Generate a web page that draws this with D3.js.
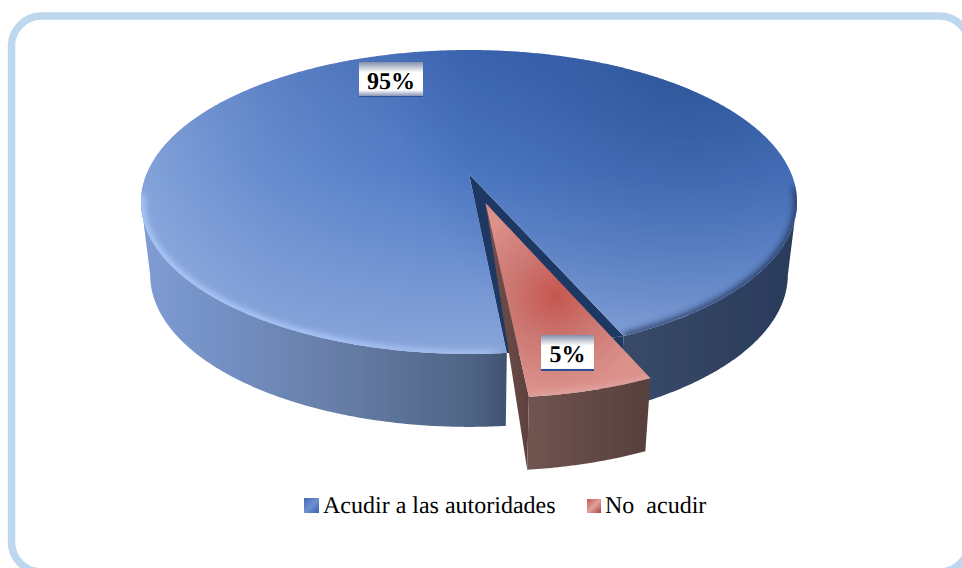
<!DOCTYPE html>
<html><head><meta charset="utf-8">
<script src="https://cdnjs.cloudflare.com/ajax/libs/d3/7.8.5/d3.min.js"></script>
<style>html,body{margin:0;padding:0;background:#fff;overflow:hidden}svg{display:block}text{font-family:"Liberation Serif",serif;white-space:pre;text-rendering:geometricPrecision}</style>
</head><body><svg id="c" width="962" height="568"></svg>
<script>
const categories = ["Acudir a las autoridades", "No  acudir"];
const values = [95, 5];
const valueLabels = ["95%", "5%"];

const svg = d3.select("#c"), defs = svg.append("defs");
const deg = Math.PI / 180;
const pieGen = d3.pie().sort(null).startAngle(174.5 * deg).endAngle(534.5 * deg);
const arcs = pieGen(values);

// perspective projection of the tilted disc
const cx = 469, cy = 174, b = 146.8, c = 322.4, k = -0.184, depth = 73, shrink = 0.972, explode = 0.197;
function project(X, Y) { const w = 1 + k * Y; return [cx + c * X / w, cy + b * Y / w]; }
function rim(a, off) { return project(Math.sin(a) + off[0], -Math.cos(a) + off[1]); }
function lower(p) { return [cx + (p[0] - cx) * shrink, p[1] + depth]; }
function sample(a0, a1) { const n = Math.max(2, Math.ceil(Math.abs(a1 - a0) / (0.5 * deg))); return d3.range(n + 1).map(i => a0 + (a1 - a0) * i / n); }
const line = d3.line().curve(d3.curveLinear);
const closed = pts => line(pts) + "Z";

function linGrad(id, x1, y1, x2, y2, stops) {
  const g = defs.append("linearGradient").attr("id", id).attr("gradientUnits", "userSpaceOnUse")
    .attr("x1", x1).attr("y1", y1).attr("x2", x2).attr("y2", y2);
  stops.forEach(s => g.append("stop").attr("offset", s[0]).attr("stop-color", s[1]).attr("stop-opacity", s[2] === undefined ? 1 : s[2]));
}
function radGrad(id, x, y, r, stops) {
  const g = defs.append("radialGradient").attr("id", id).attr("gradientUnits", "userSpaceOnUse").attr("cx", x).attr("cy", y).attr("r", r);
  stops.forEach(s => g.append("stop").attr("offset", s[0]).attr("stop-color", s[1]).attr("stop-opacity", s[2] === undefined ? 1 : s[2]));
}
function blur(id, sd) { defs.append("filter").attr("id", id).attr("x", "-20%").attr("y", "-20%").attr("width", "140%").attr("height", "140%").append("feGaussianBlur").attr("stdDeviation", sd); }
blur("b1", 3); blur("b0", 0.45);

linGrad("wallBlue", 143, 0, 797, 0, [[0, "#7f9cd4"], [0.12, "#7390c4"], [0.3, "#667da6"], [0.5, "#4f6586"], [0.56, "#3f5170"], [0.75, "#384968"], [1, "#2a3b5c"]]);
linGrad("topV", 0, 50, 0, 354, [[0, "#3d66b2"], [0.4, "#4f7ac6"], [1, "#8aa6da"]]);
linGrad("topL", 141, 0, 470, 0, [[0, "#a3bbe6", 0.62], [0.4, "#8fabde", 0.36], [1, "#7f9fd8", 0]]);
radGrad("topD", 690, 70, 300, [[0, "#234a88", 0.62], [0.6, "#2a5296", 0.25], [1, "#2a5296", 0]]);
linGrad("rimG", 141, 0, 797, 0, [[0, "#b5d2ff"], [0.3, "#b0ccff"], [0.53, "#a9c4f2"], [0.62, "#2d4470"], [1, "#22365e"]]);
radGrad("redTop", 556, 296, 95, [[0, "#c6564f"], [0.45, "#cb7570"], [1, "#dc918b"]]);
linGrad("redFront", 529, 0, 644, 0, [[0, "#6f5450"], [1, "#58403c"]]);
linGrad("redSide", 486, 0, 528, 0, [[0, "#74504c"], [1, "#5e423e"]]);
linGrad("labelA", 0, 0, 0, 1, [[0, "#8390ab"], [0.3, "#ffffff"], [0.8, "#ffffff"], [0.96, "#8e9ab8"], [0.97, "#2d4f94"], [1, "#2d4f94"]]);
linGrad("labelB", 0, 0, 0, 1, [[0, "#8390ab"], [0.3, "#ffffff"], [0.93, "#ffffff"], [0.94, "#2d4f94"], [1, "#2d4f94"]]);
defs.selectAll("linearGradient").filter(function () { return this.id.startsWith("label"); }).attr("gradientUnits", "objectBoundingBox");
linGrad("lgBlue", 304, 498, 319, 513, [[0, "#3f68b4"], [0.5, "#6f90d2"], [1, "#3c62ab"]]);
linGrad("lgRed", 587, 499, 601, 513, [[0, "#c45a55"], [0.5, "#e2a09b"], [1, "#a94440"]]);

// frame
svg.append("rect").attr("x", 11.5).attr("y", 16).attr("width", 958).attr("height", 556).attr("rx", 30)
  .attr("fill", "#fff").attr("stroke", "#bdd7ee").attr("stroke-width", 7.5);

const pieG = svg.append("g").attr("filter", "url(#b0)");
const origin = [0, 0];

// main slice
const blueArc = arcs[0];
const leftEnd = blueArc.startAngle, rightEnd = blueArc.endAngle;
const rimLeft = rim(leftEnd, origin), rimRight = rim(rightEnd, origin);
const apex = project(0, 0);

// front walls of the main slice (run up to the tangent points of the disc)
[[leftEnd, 259.4 * deg], [rightEnd, 460.6 * deg]].forEach(r => {
  const top = sample(r[0], r[1]).map(a => rim(a, origin));
  pieG.append("path").attr("d", closed(top.concat(top.map(lower).reverse()))).attr("fill", "url(#wallBlue)");
});
// exposed cut of the main slice
pieG.append("path").attr("d", closed([apex, rimLeft, rimRight, lower(rimRight), [cx + 20, cy + 90]])).attr("fill", "#1f3864");
pieG.append("path").attr("d", closed([apex, rimLeft, rimRight])).attr("fill", "#1f3864");

// top of main slice
const blueTop = closed([apex].concat(sample(leftEnd, rightEnd).map(a => rim(a, origin))));
defs.append("clipPath").attr("id", "blueClip").append("path").attr("d", blueTop);
["topV", "topL", "topD"].forEach(id => pieG.append("path").attr("d", blueTop).attr("fill", `url(#${id})`));
const rimG = pieG.append("g").attr("clip-path", "url(#blueClip)");
rimG.append("path").attr("d", line(sample(leftEnd, 262 * deg).map(a => rim(a, origin))))
  .attr("fill", "none").attr("stroke", "url(#rimG)").attr("stroke-width", 6).attr("filter", "url(#b1)");
rimG.append("path").attr("d", line(sample(rightEnd, 455 * deg).map(a => rim(a, origin))))
  .attr("fill", "none").attr("stroke", "url(#rimG)").attr("stroke-width", 6).attr("filter", "url(#b1)");

// exploded slice
const redArc = arcs[1];
const mid = (redArc.startAngle + redArc.endAngle) / 2;
const off = [Math.sin(mid) * explode, -Math.cos(mid) * explode];
const rApex = project(off[0], off[1]);
const rPts = sample(redArc.startAngle, redArc.endAngle).map(a => rim(a, off));
const rLeft = rPts[rPts.length - 1];
pieG.append("path").attr("d", closed([rApex, rLeft, lower(rLeft)])).attr("fill", "url(#redSide)");
pieG.append("path").attr("d", closed(rPts.concat(rPts.map(lower).reverse()))).attr("fill", "url(#redFront)");
const redTop = closed([rApex].concat(rPts));
defs.append("clipPath").attr("id", "redClip").append("path").attr("d", redTop);
pieG.append("path").attr("d", redTop).attr("fill", "url(#redTop)");
pieG.append("g").attr("clip-path", "url(#redClip)").append("path").attr("d", line(rPts))
  .attr("fill", "none").attr("stroke", "#e0aaa5").attr("stroke-width", 5).attr("filter", "url(#b1)");

// value labels
const labelBoxes = [{ x: 359, y: 62, w: 64, h: 35, base: 89, fill: "labelA" }, { x: 541, y: 335, w: 53, h: 36, base: 362, fill: "labelB" }];
labelBoxes.forEach((d, i) => {
  svg.append("rect").attr("x", d.x).attr("y", d.y).attr("width", d.w).attr("height", d.h).attr("fill", `url(#${d.fill})`);
  svg.append("text").attr("x", d.x + d.w / 2).attr("y", d.base).attr("text-anchor", "middle")
    .attr("font-size", 24).attr("font-weight", "bold").attr("fill", "#000").text(valueLabels[i]);
});

// legend
const legend = [{ x: 304, y: 498, s: 15, tx: 323, fill: "lgBlue" }, { x: 587, y: 499, s: 14, tx: 605, fill: "lgRed" }];
legend.forEach((d, i) => {
  svg.append("rect").attr("x", d.x).attr("y", d.y).attr("width", d.s).attr("height", d.s).attr("fill", `url(#${d.fill})`);
  svg.append("text").attr("x", d.tx).attr("y", 513).attr("font-size", 24).attr("fill", "#000").text(categories[i]);
});
</script></body></html>
